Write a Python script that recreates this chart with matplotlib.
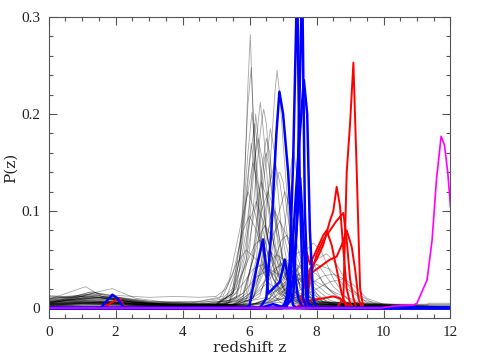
import matplotlib
matplotlib.use("Agg")
import matplotlib.pyplot as plt
from matplotlib.ticker import MultipleLocator

# ---------------- data (z, P(z)) vertices ----------------
GREY_SHARP_A = [
    [(0,.004),(1,.006),(2,.005),(3,.003),(4.5,.002),(5.4,.006),(5.7,.04),(5.85,.13),(5.95,.23),(6.02,.282),(6.1,.2),(6.2,.11),(6.35,.05),(6.6,.015),(7,.004),(8,.001),(12,0)],
    [(0,.008),(1,.01),(2,.008),(3,.004),(4.5,.003),(5.4,.008),(5.7,.05),(5.85,.14),(5.95,.21),(6.05,.248),(6.15,.17),(6.3,.08),(6.5,.03),(6.8,.01),(7.5,.003),(12,0)],
    [(0,.005),(1.3,.012),(2.5,.006),(3.5,.003),(5,.004),(5.5,.02),(5.8,.09),(5.95,.16),(6.07,.202),(6.2,.15),(6.4,.08),(6.7,.03),(7.1,.01),(8,.002),(12,0)],
    [(0,.003),(1,.005),(2,.004),(3,.002),(5,.002),(5.6,.01),(5.9,.05),(6.1,.13),(6.25,.19),(6.32,.212),(6.42,.18),(6.6,.1),(6.8,.04),(7.1,.012),(7.6,.003),(12,0)],
    [(0,.006),(1.2,.009),(2.2,.006),(3.5,.002),(5,.003),(5.7,.012),(6.0,.06),(6.2,.14),(6.35,.19),(6.42,.205),(6.5,.19),(6.65,.12),(6.9,.05),(7.3,.012),(8,.002),(12,0)],
    [(0,.002),(1,.004),(2,.003),(4,.001),(5.5,.002),(6.1,.01),(6.4,.05),(6.6,.14),(6.75,.22),(6.82,.245),(6.9,.22),(7.0,.17),(7.2,.08),(7.5,.02),(8,.004),(12,0)],
    [(0,.01),(1,.012),(1.6,.014),(2.5,.008),(3.5,.004),(5,.004),(5.5,.015),(5.8,.07),(6.0,.15),(6.15,.19),(6.3,.15),(6.5,.08),(6.8,.03),(7.2,.01),(8,.002),(12,0)],
    [(0,.004),(1.3,.015),(2,.008),(3,.004),(5,.003),(5.6,.02),(5.9,.08),(6.1,.14),(6.25,.175),(6.4,.15),(6.6,.09),(6.9,.035),(7.3,.01),(8,.002),(12,0)],
    [(0,.003),(1,.004),(2.5,.003),(5,.002),(5.8,.01),(6.1,.05),(6.3,.11),(6.45,.155),(6.5,.16),(6.6,.14),(6.8,.08),(7.1,.03),(7.5,.01),(8.2,.002),(12,0)],
    [(0,.007),(1,.008),(2,.006),(3,.003),(5,.002),(5.9,.01),(6.2,.05),(6.45,.14),(6.62,.185),(6.75,.16),(6.95,.08),(7.2,.03),(7.6,.008),(12,0)],
    [(0,.004),(1,.006),(2,.005),(3.5,.002),(5.2,.003),(5.6,.012),(5.9,.06),(6.05,.13),(6.18,.2),(6.3,.16),(6.5,.08),(6.8,.025),(7.3,.006),(12,0)],
    [(0,.006),(1.3,.014),(2.5,.006),(4,.003),(5.5,.004),(5.9,.015),(6.15,.07),(6.35,.14),(6.5,.175),(6.6,.16),(6.8,.09),(7.1,.03),(7.6,.007),(12,0)],
]
GREY_SHARP_B = [
    [(0,.012),(0.8,.01),(1.4,.016),(2.2,.01),(3,.006),(4.5,.005),(5.3,.01),(5.6,.04),(5.9,.11),(6.1,.15),(6.3,.12),(6.6,.06),(7,.02),(7.5,.006),(9,.001),(12,0)],
    [(0,.006),(1,.009),(2,.01),(3,.005),(5,.003),(5.6,.015),(5.9,.05),(6.15,.1),(6.35,.13),(6.55,.11),(6.8,.06),(7.2,.02),(7.8,.005),(12,0)],
    [(0,.002),(1.5,.006),(3,.003),(5.2,.003),(5.8,.012),(6.1,.05),(6.35,.1),(6.55,.12),(6.75,.1),(7.0,.05),(7.4,.015),(8,.004),(12,0)],
    [(0,.009),(1.1,.022),(1.6,.012),(2.5,.007),(3.5,.004),(5,.004),(5.5,.015),(5.8,.05),(6.0,.09),(6.2,.11),(6.4,.09),(6.7,.05),(7.1,.015),(7.8,.004),(12,0)],
    [(0,.004),(1,.006),(2,.005),(3.5,.002),(5.5,.003),(6.0,.012),(6.3,.04),(6.55,.08),(6.75,.1),(6.95,.085),(7.2,.05),(7.6,.015),(8.2,.004),(12,0)],
    [(0,.011),(1,.013),(1.9,.02),(2.6,.01),(3.5,.006),(4.5,.007),(5.2,.012),(5.5,.035),(5.8,.08),(6.0,.095),(6.2,.08),(6.5,.045),(6.9,.018),(7.5,.006),(9,.002),(12,.001)],
    [(0,.005),(1.3,.012),(2.3,.007),(3.5,.003),(5.3,.004),(5.8,.015),(6.1,.05),(6.3,.075),(6.45,.085),(6.65,.075),(6.9,.045),(7.3,.015),(8,.003),(12,0)],
    [(0,.003),(1,.005),(2,.004),(3,.002),(5.5,.003),(6.1,.01),(6.4,.035),(6.7,.075),(6.9,.09),(7.1,.075),(7.4,.04),(7.8,.012),(8.5,.003),(12,0)],
    [(0,.007),(1.4,.011),(2.5,.006),(4,.003),(5.8,.004),(6.3,.015),(6.7,.045),(6.95,.07),(7.1,.075),(7.3,.065),(7.6,.035),(8.0,.012),(8.6,.003),(12,0)],
    [(0,.008),(1,.012),(2,.009),(3,.005),(5,.005),(5.5,.015),(5.9,.045),(6.15,.065),(6.3,.07),(6.5,.06),(6.8,.035),(7.2,.015),(8,.004),(12,.001)],
    [(0,.005),(1,.007),(2,.006),(3,.003),(5,.003),(5.5,.015),(5.75,.06),(5.9,.12),(6.05,.17),(6.2,.13),(6.4,.06),(6.7,.02),(7.2,.005),(12,0)],
    [(0,.008),(1,.009),(1.9,.012),(3,.007),(4.2,.005),(5.1,.01),(5.4,.03),(5.7,.08),(5.95,.12),(6.15,.1),(6.45,.05),(6.9,.015),(7.5,.004),(12,0)],
]
GREY_LATE = [
    [(0,.002),(1,.003),(2,.003),(4,.001),(6,.002),(6.6,.01),(6.9,.04),(7.1,.1),(7.25,.15),(7.31,.163),(7.4,.14),(7.55,.08),(7.8,.025),(8.2,.006),(12,0)],
    [(0,.004),(1.2,.008),(2.5,.005),(4,.002),(6,.003),(6.6,.01),(7.0,.03),(7.35,.055),(7.6,.06),(7.85,.05),(8.2,.025),(8.7,.008),(9.3,.002),(12,0)],
    [(0,.006),(1,.007),(2,.006),(3.5,.003),(6,.003),(6.7,.01),(7.2,.03),(7.55,.045),(7.8,.05),(8.1,.042),(8.5,.022),(9,.007),(9.6,.002),(12,0)],
    [(0,.003),(1.5,.006),(3,.003),(6,.002),(6.8,.008),(7.3,.03),(7.65,.058),(7.9,.067),(8.15,.058),(8.5,.03),(8.9,.01),(9.4,.003),(12,0)],
    [(0,.005),(1,.006),(2,.005),(4,.002),(6.3,.003),(7.0,.01),(7.6,.03),(8.0,.05),(8.3,.056),(8.6,.045),(9.0,.02),(9.5,.006),(10.2,.002),(12,.001)],
    [(0,.004),(2,.006),(3.5,.004),(5,.003),(6.5,.004),(7.2,.012),(7.8,.025),(8.2,.033),(8.5,.035),(8.8,.03),(9.2,.015),(9.7,.005),(10.5,.003),(12,.003)],
    [(0,.003),(1.5,.005),(3,.004),(5,.003),(7,.006),(7.8,.016),(8.4,.027),(8.8,.03),(9.1,.024),(9.5,.01),(10,.004),(11.3,.003),(11.35,.005),(12,.005)],
    [(0,.009),(1,.011),(2,.01),(3,.006),(5,.004),(6.0,.008),(6.5,.025),(6.9,.045),(7.2,.05),(7.5,.042),(7.9,.022),(8.4,.008),(9,.002),(12,0)],
    [(0,.005),(1.3,.017),(2,.009),(3,.004),(5.5,.004),(6.1,.012),(6.5,.03),(6.8,.042),(7.0,.045),(7.3,.038),(7.7,.02),(8.2,.006),(12,0)],
    [(0,.002),(2,.004),(4,.002),(6,.003),(6.6,.01),(7.0,.025),(7.4,.035),(7.8,.03),(8.3,.015),(8.9,.005),(9.6,.002),(12,0)],
    [(0,.004),(1,.005),(2.5,.004),(4,.004),(5.5,.004),(6.4,.01),(7.0,.022),(7.5,.03),(8.0,.027),(8.6,.015),(9.3,.006),(10,.003),(12,.003)],
    [(0,.002),(1,.003),(3,.002),(6,.003),(6.9,.01),(7.5,.03),(8.0,.045),(8.4,.04),(8.9,.02),(9.4,.008),(10,.004),(12,.004)],
    [(0,.006),(1,.008),(2,.007),(3,.005),(5,.003),(6.5,.005),(7.1,.02),(7.5,.036),(7.7,.04),(8.0,.035),(8.4,.018),(8.9,.006),(12,.001)],
]
GREY_MID = [
    [(0,.006),(0.7,.008),(1.5,.011),(2.5,.006),(4,.003),(5.6,.004),(6.0,.015),(6.4,.04),(6.8,.055),(7.1,.048),(7.5,.025),(8,.008),(8.8,.002),(12,0)],
    [(0,.01),(1,.012),(2,.011),(3,.007),(4.2,.006),(5.3,.007),(5.8,.015),(6.2,.032),(6.6,.04),(7.0,.032),(7.5,.015),(8.2,.005),(12,.001)],
    [(0,.003),(1,.005),(2,.004),(3,.002),(5.5,.002),(6.1,.01),(6.4,.04),(6.65,.1),(6.85,.138),(6.9,.14),(7.0,.13),(7.2,.08),(7.5,.03),(8,.006),(12,0)],
    [(0,.005),(1,.007),(2,.006),(4,.002),(5.8,.003),(6.3,.012),(6.6,.045),(6.85,.095),(7.05,.12),(7.2,.105),(7.45,.06),(7.8,.02),(8.4,.004),(12,0)],
    [(0,.007),(1.2,.01),(2.3,.007),(3.5,.003),(5.5,.003),(6.0,.015),(6.3,.06),(6.55,.12),(6.75,.15),(6.9,.13),(7.15,.07),(7.5,.022),(8,.005),(12,0)],
    [(0,.013),(0.7,.011),(1.2,.016),(2.0,.013),(3.0,.011),(3.8,.012),(4.5,.011),(5.0,.012),(5.3,.02),(5.6,.045),(5.9,.06),(6.2,.05),(6.6,.025),(7.2,.008),(8,.003),(12,.002)],
    [(0,.009),(1.1,.014),(2,.01),(3,.005),(4.5,.004),(5.4,.008),(5.8,.025),(6.1,.04),(6.4,.045),(6.7,.035),(7.1,.018),(7.7,.006),(12,.001)],
    [(0,.004),(1,.006),(2,.005),(4,.002),(5.8,.004),(6.2,.025),(6.45,.05),(6.6,.06),(6.8,.05),(7.1,.025),(7.6,.007),(12,0)],
]

BLUE_CURVES = [
    [(0,0),(6.9,0),(7.1,.005),(7.2,.05),(7.3,.15),(7.42,.34),(7.5,.12),(7.6,.01),(7.7,0),(12,0)],
    [(0,0),(7.0,0),(7.3,.01),(7.4,.08),(7.57,.34),(7.65,.1),(7.75,.005),(7.9,0),(12,0)],
    [(0,0),(7.0,0),(7.2,.02),(7.35,.1),(7.5,.18),(7.62,.235),(7.72,.2),(7.8,.08),(7.9,.01),(8.0,0),(12,0)],
    [(0,0),(6.3,0),(6.5,.01),(6.65,.08),(6.8,.18),(6.89,.223),(7.0,.2),(7.15,.14),(7.3,.05),(7.45,.01),(7.6,0),(12,0)],
    [(0,0),(7.1,0),(7.3,.03),(7.4,.08),(7.51,.134),(7.6,.08),(7.7,.01),(7.8,0),(12,0)],
    [(0,0),(5.9,0),(6.0,.003),(6.2,.04),(6.4,.0707),(6.5,.04),(6.55,.015),(6.7,.02),(6.9,.027),(7.05,.05),(7.2,.02),(7.3,.003),(7.4,0),(12,0)],
    [(0,0),(6.3,0),(6.5,.002),(6.7,.004),(6.9,.002),(7.1,0),(12,0)],
    [(0,0),(1.55,0),(1.7,.006),(1.9,.0137),(2.05,.01),(2.25,0),(12,0)],
]

RED_CURVES = [
    [(0,0),(8.6,0),(8.8,.01),(8.9,.14),(9.0,.19),(9.1,.253),(9.2,.14),(9.3,.02),(9.4,0),(12,0)],
    [(0,0),(7.6,0),(7.7,.01),(7.8,.04),(8.0,.05),(8.2,.065),(8.4,.09),(8.5,.1),(8.6,.125),(8.7,.105),(8.8,.06),(8.9,.02),(9.0,.005),(9.1,0),(12,0)],
    [(0,0),(7.7,0),(7.8,.03),(8.0,.055),(8.2,.07),(8.4,.08),(8.6,.09),(8.8,.098),(8.9,.07),(9.0,.03),(9.1,.01),(9.2,0),(12,0)],
    [(0,0),(7.5,0),(7.6,.02),(7.8,.035),(8.0,.04),(8.2,.045),(8.4,.05),(8.6,.053),(8.75,.065),(8.9,.08),(9.05,.063),(9.15,.04),(9.25,.01),(9.35,0),(12,0)],
    [(0,0),(7.4,0),(7.55,.005),(7.65,.03),(7.7,.058),(7.8,.045),(8.0,.06),(8.2,.075),(8.3,.08),(8.45,.065),(8.6,.04),(8.75,.015),(8.9,0),(12,0)],
    [(0,0),(7.6,0),(7.8,.008),(8.2,.01),(8.5,.012),(8.7,.01),(8.9,.004),(9.1,0),(12,0)],
    [(0,0),(1.6,0),(1.8,.004),(2.1,.01),(2.3,0),(12,0)],
]

MAGENTA_CURVE = [(0,0),(9.9,0),(10.3,.002),(10.9,.003),(11.0,.005),(11.3,.029),(11.45,.07),
                 (11.58,.132),(11.72,.177),(11.82,.168),(11.92,.139),(12,.104)]

X_TICKS = [0, 2, 4, 6, 8, 10, 12]
Y_TICKS = [0, 0.1, 0.2, 0.3]
Y_TICK_LABELS = ["0", "0.1", "0.2", "0.3"]

# ---------------- plotting ----------------
plt.rcParams['font.family'] = ['Liberation Serif', 'DejaVu Serif']
fig = plt.figure(figsize=(4.79, 3.58), dpi=100)
ax = fig.add_axes([0.1017, 0.1117, 0.8388, 0.8408])

def xy(curve):
    return [p[0] for p in curve], [p[1] for p in curve]

for group in (GREY_SHARP_A, GREY_SHARP_B, GREY_LATE, GREY_MID):
    for c in group:
        x, y = xy(c)
        ax.plot(x, y, color='black', lw=0.6, alpha=0.35)

for c in RED_CURVES:
    x, y = xy(c)
    ax.plot(x, y, color='#ff0000', lw=1.4)

for c in BLUE_CURVES:
    x, y = xy(c)
    ax.plot(x, y, color='#0000ff', lw=1.8)

x, y = xy(MAGENTA_CURVE)
ax.plot(x, y, color='#ff00ff', lw=1.2)

ax.set_xlim(0, 12)
ax.set_ylim(-0.0103, 0.3)
ax.set_xticks(X_TICKS)
ax.set_yticks(Y_TICKS)
ax.set_yticklabels(Y_TICK_LABELS)
ax.xaxis.set_minor_locator(MultipleLocator(0.5))
ax.yaxis.set_minor_locator(MultipleLocator(0.02))
ax.tick_params(which='both', direction='in', top=True, right=True, color='#555555',
               labelsize=11, labelcolor='#222222', width=0.8)
ax.tick_params(which='major', length=6, pad=6)
ax.tick_params(which='minor', length=3)
for s in ax.spines.values():
    s.set_color('#555555')
    s.set_linewidth(0.8)

ax.set_xlabel('redshift z', fontsize=11, color='#222222', labelpad=1,
              family=['DejaVu Serif'])
ax.set_ylabel('P(z)', fontsize=11, color='#222222', family=['DejaVu Serif'])
ax.yaxis.set_label_coords(-0.078, 0.5)

fig.savefig('out.png', dpi=100)
